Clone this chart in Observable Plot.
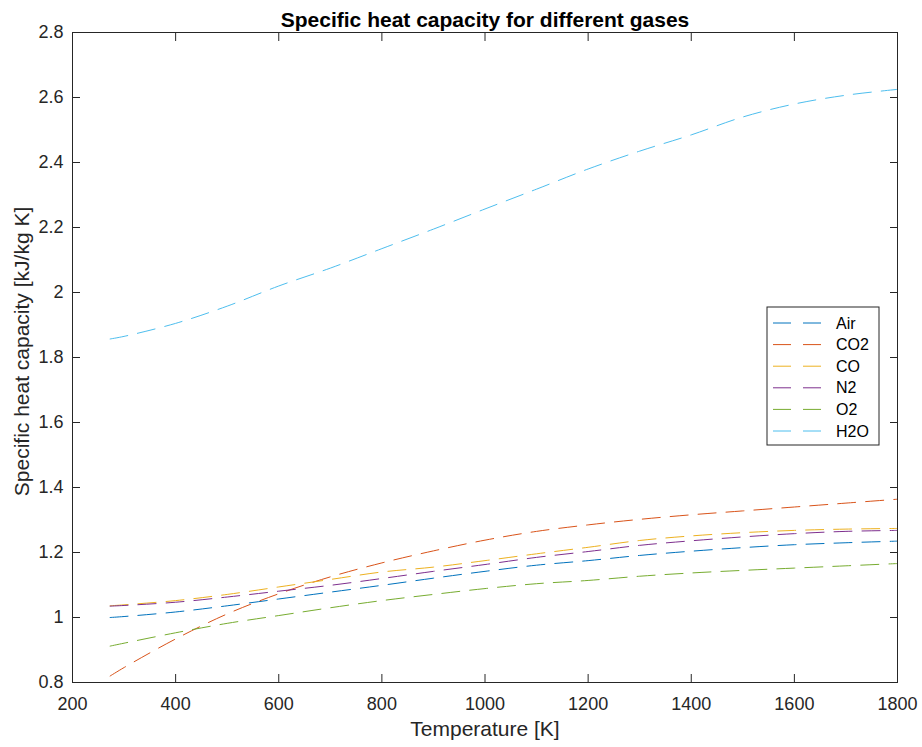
<!DOCTYPE html>
<html>
<head>
<meta charset="utf-8">
<script src="https://cdn.jsdelivr.net/npm/d3@7"></script>
<script src="https://cdn.jsdelivr.net/npm/@observablehq/plot@0.6"></script>
<style>
  html, body { margin: 0; padding: 0; background: #fff; }
  #chart { width: 922px; height: 747px; }
</style>
</head>
<body>
<div id="chart"></div>
<script>
const temps = [273, 300, 400, 500, 600, 700, 800, 900, 1000, 1100, 1200, 1300, 1400, 1500, 1600, 1700, 1800];
const gases = ["Air", "CO2", "CO", "N2", "O2", "H2O"];
const cpAir = [1.000, 1.003, 1.017, 1.036, 1.057, 1.078, 1.099, 1.121, 1.142, 1.161, 1.175, 1.191, 1.204, 1.215, 1.224, 1.230, 1.235];
const cpCO2 = [0.820, 0.846, 0.934, 1.011, 1.073, 1.125, 1.168, 1.205, 1.238, 1.265, 1.285, 1.302, 1.316, 1.328, 1.340, 1.352, 1.364];
const cpCO  = [1.036, 1.039, 1.052, 1.071, 1.094, 1.117, 1.140, 1.155, 1.175, 1.196, 1.216, 1.237, 1.251, 1.261, 1.268, 1.272, 1.274];
const cpN2  = [1.035, 1.037, 1.047, 1.063, 1.081, 1.099, 1.120, 1.142, 1.163, 1.185, 1.203, 1.222, 1.236, 1.248, 1.258, 1.265, 1.268];
const cpO2  = [0.912, 0.921, 0.953, 0.982, 1.006, 1.030, 1.052, 1.071, 1.089, 1.104, 1.114, 1.127, 1.137, 1.145, 1.152, 1.159, 1.166];
const cpH2O = [1.857, 1.865, 1.905, 1.958, 2.020, 2.075, 2.135, 2.195, 2.257, 2.318, 2.380, 2.435, 2.485, 2.540, 2.580, 2.607, 2.625];
const xTicks = [200, 400, 600, 800, 1000, 1200, 1400, 1600, 1800];
const yTicks = [0.8, 1, 1.2, 1.4, 1.6, 1.8, 2, 2.2, 2.4, 2.6, 2.8];
const colors = ["#0072BD", "#D95319", "#EDB120", "#7E2F8E", "#77AC30", "#4DBEEE"];

const series = [cpAir, cpCO2, cpCO, cpN2, cpO2, cpH2O];
const rows = [];
gases.forEach((g, i) => temps.forEach((t, j) => rows.push({gas: g, T: t, cp: series[i][j]})));

const FONT = "Liberation Sans, Arial, Helvetica, sans-serif";
const axisColor = "#262626";
const fmtY = d => String(+d.toFixed(1));
const fmtX = d => String(d);

const plot = Plot.plot({
  width: 922,
  height: 747,
  marginLeft: 72,
  marginRight: 25,
  marginTop: 32,
  marginBottom: 65,
  style: {fontFamily: FONT, fontSize: "18px", color: axisColor, background: "#fff"},
  x: {domain: [200, 1800]},
  y: {domain: [0.8, 2.8]},
  color: {domain: gases, range: colors},
  marks: [
    Plot.line(rows, {x: "T", y: "cp", z: "gas", stroke: "gas", strokeWidth: 1, strokeDasharray: "18,10", curve: "catmull-rom"}),
    Plot.frame({stroke: axisColor, strokeWidth: 1}),
    Plot.axisX(xTicks, {anchor: "bottom", tickSize: -8, tickFormat: () => "", label: null, stroke: axisColor}),
    Plot.axisX(xTicks, {anchor: "top", tickSize: -8, tickFormat: () => "", label: null, stroke: axisColor}),
    Plot.axisY(yTicks, {anchor: "left", tickSize: -8, tickFormat: () => "", label: null, stroke: axisColor}),
    Plot.axisY(yTicks, {anchor: "right", tickSize: -8, tickFormat: () => "", label: null, stroke: axisColor}),
    Plot.axisX(xTicks, {anchor: "bottom", tickSize: 0, tickPadding: 15, fontSize: 18, fill: axisColor, tickFormat: fmtX, label: null}),
    Plot.axisY(yTicks, {anchor: "left", tickSize: 0, tickPadding: 9, fontSize: 18, fill: axisColor, tickFormat: fmtY, label: null}),
    Plot.text(["Temperature [K]"], {frameAnchor: "bottom", dy: 53, fontSize: 21, fill: axisColor}),
    Plot.text(["Specific heat capacity [kJ/kg K]"], {frameAnchor: "left", textAnchor: "middle", dx: -50, dy: -6, rotate: -90, fontSize: 21, fill: axisColor}),
    Plot.text(["Specific heat capacity for different gases"], {frameAnchor: "top", dy: -20, fontSize: 21, fontWeight: "bold", fill: "#000"})
  ]
});

document.getElementById("chart").appendChild(plot);

// Legend (MATLAB-style box inside the axes)
const svg = d3.select(plot.tagName.toLowerCase() === "svg" ? plot : plot.querySelector("svg"));
const lg = svg.append("g").attr("transform", "translate(767,307)");
lg.append("rect").attr("width", 112).attr("height", 138).attr("fill", "#fff").attr("stroke", axisColor).attr("stroke-width", 1);
gases.forEach((g, i) => {
  const y = 16 + i * 21.6;
  lg.append("line").attr("x1", 6).attr("x2", 56).attr("y1", y).attr("y2", y)
    .attr("stroke", colors[i]).attr("stroke-width", 1).attr("stroke-dasharray", "18,12");
  lg.append("text").attr("x", 69).attr("y", y).attr("dy", "0.35em").attr("text-anchor", "start")
    .attr("font-family", FONT).attr("font-size", 16).attr("fill", "#000").text(g);
});
</script>
</body>
</html>
